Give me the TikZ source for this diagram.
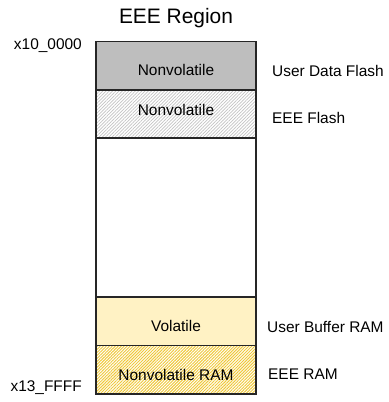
\documentclass[tikz,border=0pt]{standalone}
\usepackage{fontspec}
\setmainfont{Liberation Sans}
\usetikzlibrary{positioning, patterns.meta}

\definecolor{flashgray}{HTML}{BEBEBE}
\definecolor{hatchgray}{HTML}{C4C4C4}
\definecolor{ramyellow}{HTML}{FFF2C4}
\definecolor{hatchyellow}{HTML}{F0C838}

\tikzset{
  cell/.style={draw=black!85, line width=1.2bp, minimum width=160bp, outer sep=0pt, inner sep=0pt},
  celltext/.style={font=\fontsize{15.5}{18}\selectfont},
  sidetext/.style={font=\fontsize{15.5}{18}\selectfont, anchor=west, inner sep=0pt},
  addrtext/.style={font=\fontsize{15.5}{18}\selectfont, anchor=east, inner sep=0pt}
}

\begin{document}
\begin{tikzpicture}[x=1bp, y=-1bp]
			\useasboundingbox (0,0) rectangle (389,402);
			\node[font=\fontsize{21}{24}\selectfont] (title) at (176,18) {EEE Region};
			
			% memory map, top to bottom
			\node[cell, minimum height=48.5bp, fill=flashgray, anchor=north] (udf) at (176,41.5) {};
			\node[cell, minimum height=48bp, below=0pt of udf,
			  preaction={fill=white}, pattern={Lines[angle=45, distance=2.3bp, line width=0.7bp]}, pattern color=hatchgray] (eeef) {};
			\node[cell, minimum height=159bp, below=0pt of eeef, fill=white] (gap) {};
			\node[cell, minimum height=48.5bp, below=0pt of gap, fill=ramyellow] (ubr) {};
			\node[cell, minimum height=48.5bp, below=0pt of ubr,
			  preaction={fill=white}, pattern={Lines[angle=45, distance=2.1bp, line width=0.95bp]}, pattern color=hatchyellow] (eeer) {};
			
			\node[celltext] (t1) at ([yshift=-4bp]udf.center) {Nonvolatile};
			\node[celltext] (t2) at ([yshift=4bp]eeef.center) {Nonvolatile};
			\node[celltext] (t4) at ([yshift=-5bp]ubr.center) {Volatile};
			\node[celltext] (t5) at ([yshift=-5bp]eeer.center) {Nonvolatile RAM};
			
			\node[sidetext] (l1) at (272,71) {User Data Flash};
			\node[sidetext] (l2) at (272,118) {EEE Flash};
			\node[sidetext] (l4) at (267,327) {User Buffer RAM};
			\node[sidetext] (l5) at (268,374) {EEE RAM};
			
			\node[addrtext] (a0) at (82,46) {x10\_0000};
			\node[addrtext] (a1) at (82,388) {x13\_FFFF};
		\end{tikzpicture}
\end{document}
